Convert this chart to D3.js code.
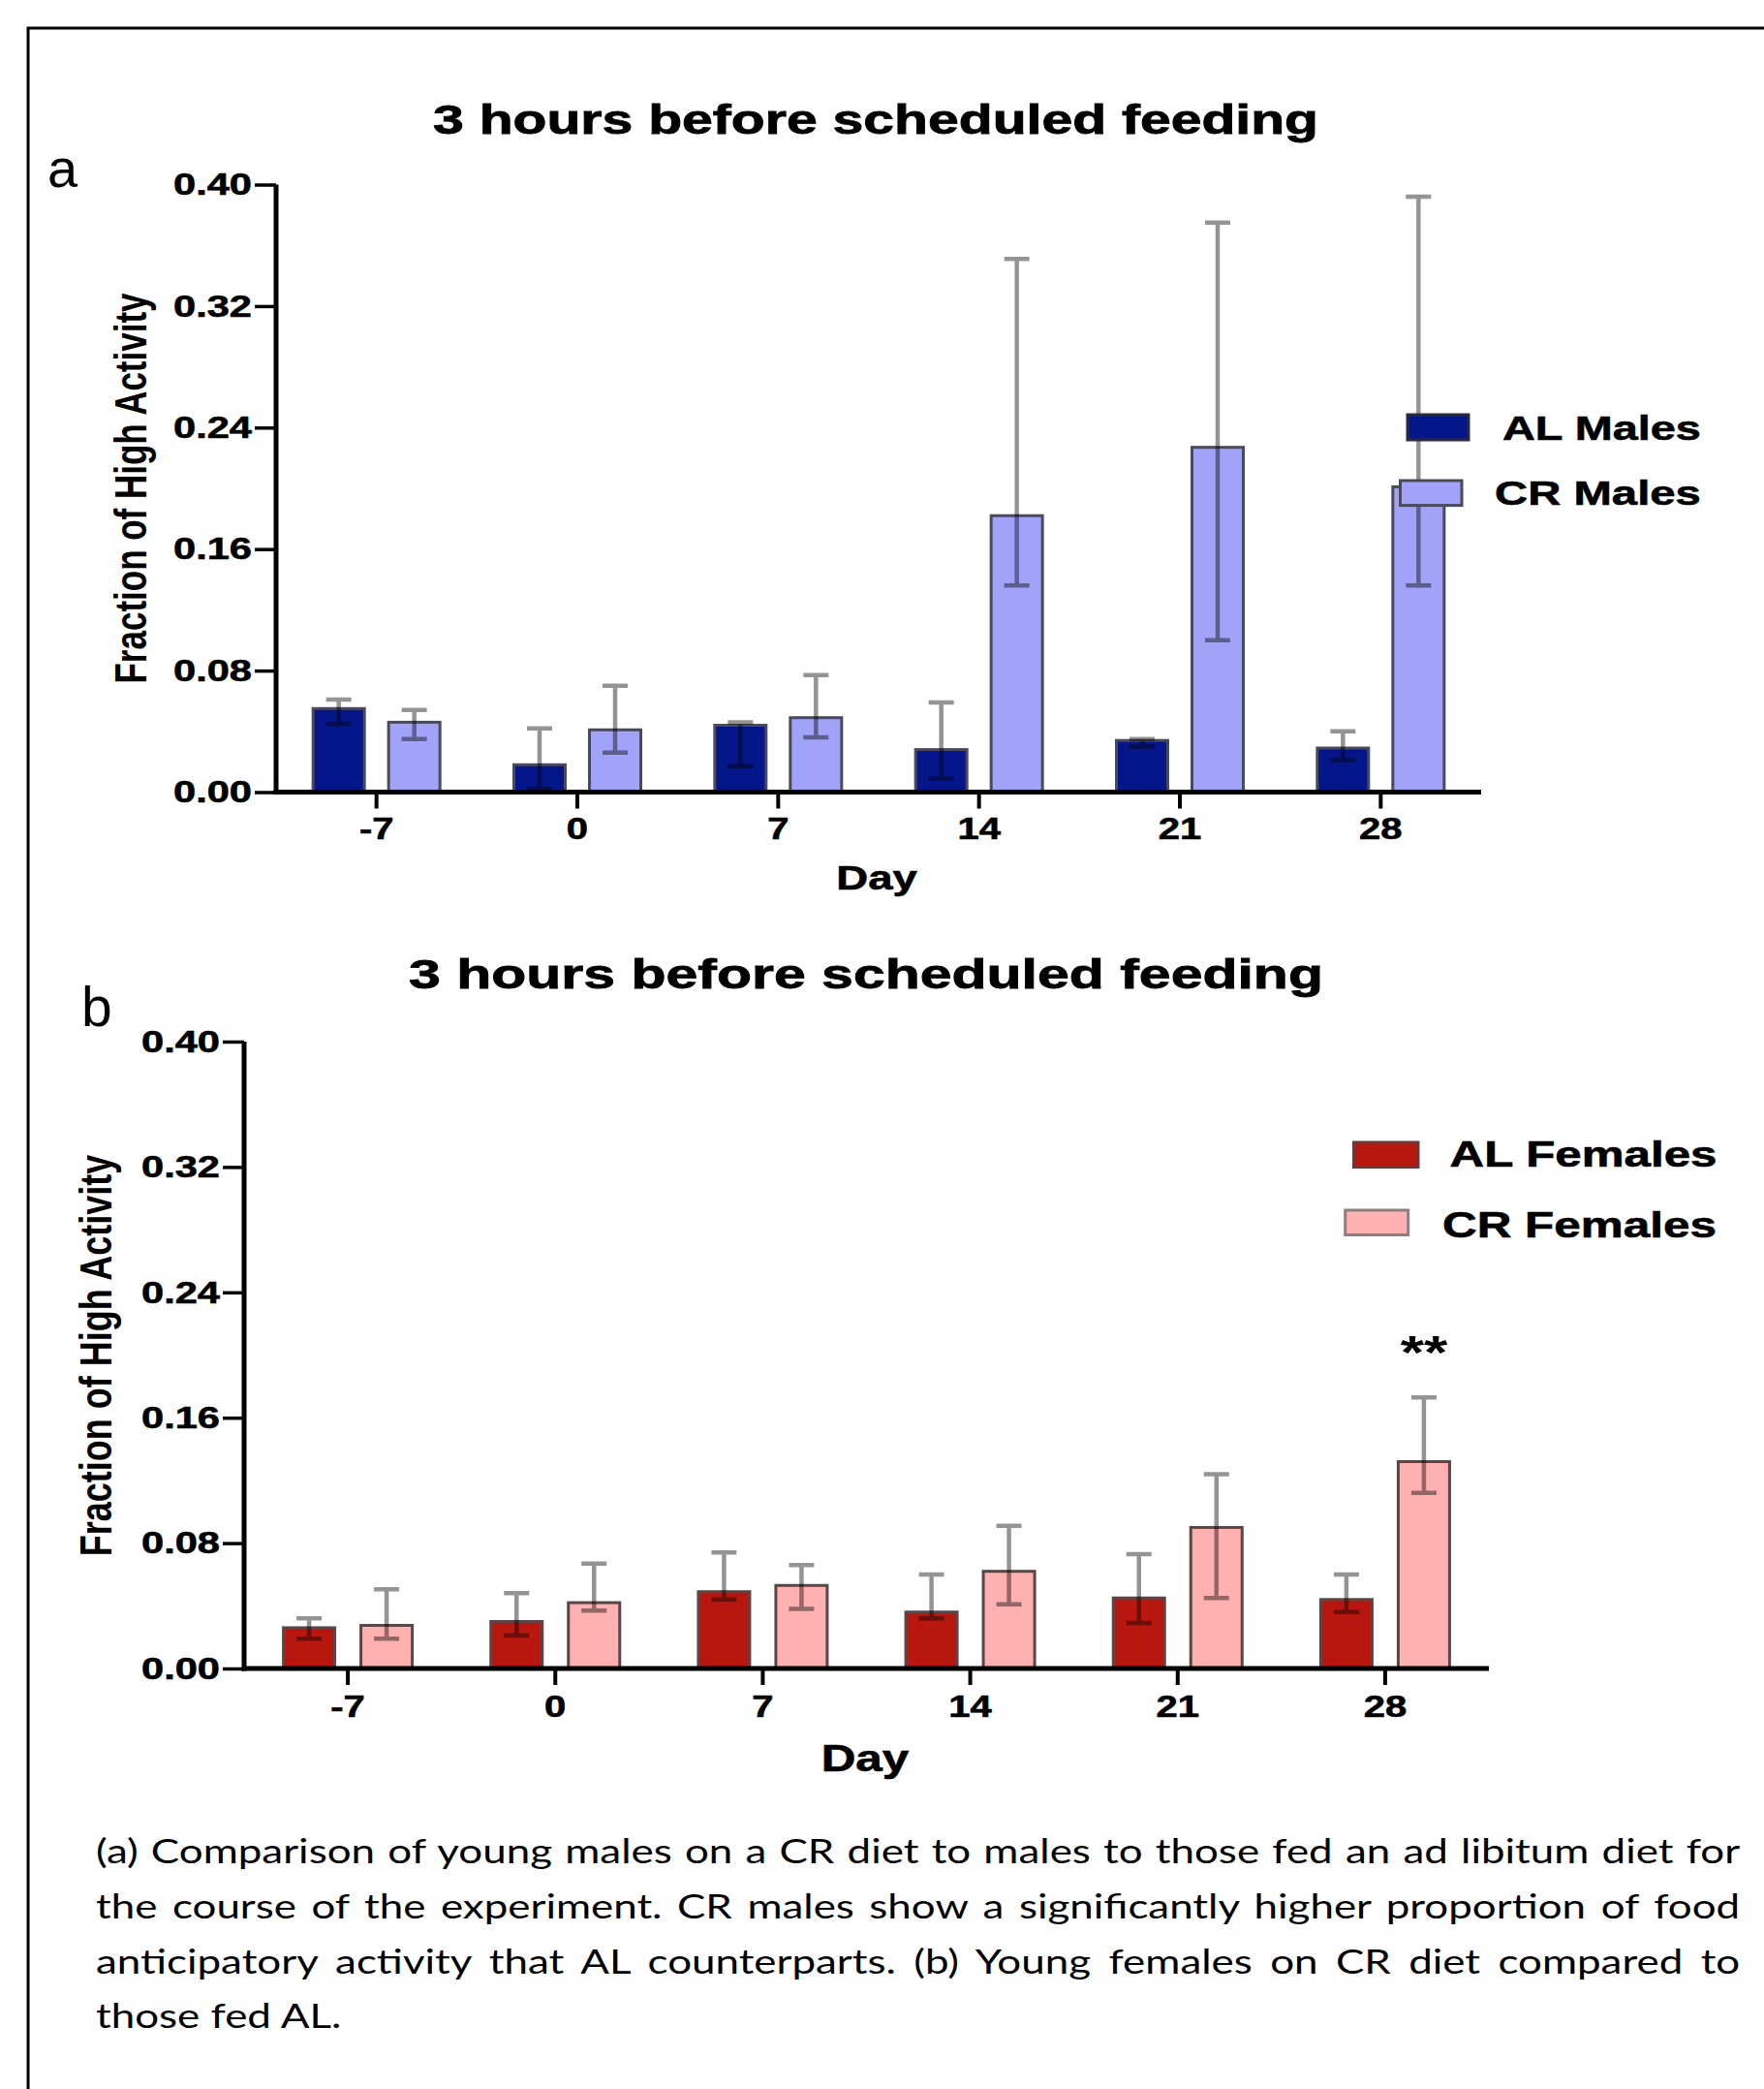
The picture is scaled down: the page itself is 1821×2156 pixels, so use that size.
<!DOCTYPE html>
<html><head><meta charset="utf-8">
<script src="https://cdn.jsdelivr.net/npm/d3@7"></script>
<style>body{margin:0;background:#fff}svg{display:block}</style>
</head><body>
<svg id="fig" width="1821" height="2156"></svg>
<script>
// ---------------- DATA ----------------
const days = ["-7", "0", "7", "14", "21", "28"];
const yTickValues = [0, 0.08, 0.16, 0.24, 0.32, 0.40];
const seriesMales = ["AL Males", "CR Males"];
const seriesFemales = ["AL Females", "CR Females"];

const alMales     = [0.055, 0.018, 0.044, 0.028, 0.034, 0.029];
const alMalesLow  = [0.045, 0.002, 0.017, 0.009, 0.030, 0.021];
const alMalesHigh = [0.061, 0.042, 0.046, 0.059, 0.035, 0.040];
const crMales     = [0.046, 0.041, 0.049, 0.182, 0.227, 0.201];
const crMalesLow  = [0.035, 0.026, 0.036, 0.136, 0.100, 0.136];
const crMalesHigh = [0.054, 0.070, 0.077, 0.351, 0.375, 0.392];

const alFemales     = [0.026, 0.030, 0.049, 0.036, 0.045, 0.044];
const alFemalesLow  = [0.019, 0.021, 0.044, 0.032, 0.029, 0.036];
const alFemalesHigh = [0.032, 0.048, 0.074, 0.060, 0.073, 0.060];
const crFemales     = [0.0275, 0.042, 0.053, 0.062, 0.090, 0.132];
const crFemalesLow  = [0.019, 0.037, 0.038, 0.041, 0.045, 0.112];
const crFemalesHigh = [0.0505, 0.067, 0.066, 0.091, 0.124, 0.173];

const titleText = "3 hours before scheduled feeding";
const yLabelText = "Fraction of High Activity";
const xLabelText = "Day";
const significance = { day: "28", series: 1, label: "**" };
const captionLines = [
  "(a) Comparison of young males on a CR diet to males to those fed an ad libitum diet for",
  "the course of the experiment. CR males show a significantly higher proportion of food",
  "anticipatory activity that AL counterparts. (b) Young females on CR diet compared to",
  "those fed AL."
];

// ---------------- DRAWING ----------------
const svg = d3.select("#fig");
const FONT = "'Liberation Sans', Arial, Helvetica, sans-serif";

function placeText(g, str, x, y, o) {
  const t = g.append("text").text(str)
    .attr("font-family", o.family || FONT)
    .attr("font-size", o.size)
    .attr("font-weight", o.weight || "bold")
    .attr("text-anchor", o.anchor || "start")
    .attr("fill", "#000");
  if (o.heavy) t.attr("stroke", "#000").attr("stroke-width", o.heavy);
  let s = o.sx == null ? 1.3 : o.sx;
  if (o.width) s = o.width / t.node().getComputedTextLength();
  t.attr("transform", `translate(${x},${y}) scale(${s},1)` + (o.rotate ? " rotate(-90)" : ""));
  return t;
}

// frame
svg.append("path").attr("d", "M29,2156V29H1821").attr("fill", "none")
  .attr("stroke", "#000").attr("stroke-width", 3);

const panels = [
  {
    letter: "a", letterPos: [49, 193, 56],
    series: seriesMales,
    values: [alMales, crMales], lows: [alMalesLow, crMalesLow], highs: [alMalesHigh, crMalesHigh],
    fills: ["#04168a", "#a0a3f7"], barStroke: "#4a4a5c", swatchStroke: ["#2a2a3a", "#4a4a5c"],
    xRange: [285, 1529], yRange: [817.5, 190.5], half: 39, barW: 56,
    title: [904, 138, 42, 914],
    yLabel: [151, 504, 35],
    xLabel: [905, 918, 35],
    tickPad: 8.5,
    legend: [
      { sw: [1453, 428, 63, 26], tx: [1551, 454, 36, 205] },
      { sw: [1445.5, 496, 63.5, 25.6], tx: [1543, 521, 36, 213] }
    ],
    showSig: false
  },
  {
    letter: "b", letterPos: [84, 1059, 57],
    series: seriesFemales,
    values: [alFemales, crFemales], lows: [alFemalesLow, crFemalesLow], highs: [alFemalesHigh, crFemalesHigh],
    fills: ["#b8170f", "#ffb0b0"], barStroke: "#5a4646", swatchStroke: ["#6a3a3a", "#8a8080"],
    xRange: [252, 1537], yRange: [1722, 1075], half: 40, barW: 56,
    title: [894, 1020, 43, 944],
    yLabel: [115, 1399, 36],
    xLabel: [893, 1828, 38],
    tickPad: 10,
    legend: [
      { sw: [1397.5, 1179, 66.5, 25.6], tx: [1496.6, 1204, 37, 276] },
      { sw: [1388.7, 1249, 65, 25.5], tx: [1489, 1277, 37, 283] }
    ],
    showSig: true
  }
];

panels.forEach(p => {
  const g = svg.append("g");
  const x = d3.scaleBand().domain(days).range(p.xRange).paddingInner(0).paddingOuter(0);
  const y = d3.scaleLinear().domain([0, 0.40]).range(p.yRange);

  // bars
  p.series.forEach((s, si) => {
    const off = si === 0 ? -p.half : p.half;
    g.append("g").selectAll("rect").data(days).join("rect")
      .attr("x", d => x(d) + x.bandwidth() / 2 + off - p.barW / 2 + 1.5)
      .attr("width", p.barW - 3)
      .attr("y", (d, i) => y(p.values[si][i]))
      .attr("height", (d, i) => y(0) - y(p.values[si][i]))
      .attr("fill", p.fills[si])
      .attr("stroke", p.barStroke).attr("stroke-width", 3);
  });
  // error bars
  p.series.forEach((s, si) => {
    const off = si === 0 ? -p.half : p.half;
    g.append("g").selectAll("path").data(days).join("path")
      .attr("d", (d, i) => {
        const cx = x(d) + x.bandwidth() / 2 + off;
        const yl = y(p.lows[si][i]), yh = y(p.highs[si][i]);
        return `M${cx - 13},${yl}H${cx + 13}M${cx},${yl}V${yh}M${cx - 13},${yh}H${cx + 13}`;
      })
      .attr("fill", "none").attr("stroke", "#000")
      .attr("stroke-opacity", 0.42).attr("stroke-width", 4.5);
  });

  // y axis
  const ya = g.append("g").attr("transform", `translate(${p.xRange[0]},0)`)
    .call(d3.axisLeft(y).tickValues(yTickValues).tickFormat(d3.format(".2f"))
      .tickSize(22).tickSizeOuter(0).tickPadding(3));
  ya.select(".domain").attr("stroke-width", 5).attr("d", `M0,${p.yRange[0] + 2.5}V${p.yRange[1]}`);
  ya.selectAll(".tick line").attr("stroke-width", 3.5);
  ya.selectAll(".tick text").attr("font-family", FONT).attr("font-size", 32).attr("font-weight", "bold")
    .attr("fill", "#000").attr("stroke", "#000").attr("stroke-width", 0.6)
    .each(function () {
      const t = d3.select(this); const xx = +t.attr("x");
      t.attr("x", xx / 1.3).attr("transform", "scale(1.3,1)");
    });

  // x axis
  const xa = g.append("g").attr("transform", `translate(0,${p.yRange[0]})`)
    .call(d3.axisBottom(x).tickSize(17).tickSizeOuter(0).tickPadding(p.tickPad));
  xa.select(".domain").attr("stroke-width", 5).attr("d", `M${p.xRange[0] - 2.5},0H${p.xRange[1]}`);
  xa.selectAll(".tick line").attr("stroke-width", 4);
  xa.selectAll(".tick text").attr("font-family", FONT).attr("font-size", 32).attr("font-weight", "bold")
    .attr("fill", "#000").attr("stroke", "#000").attr("stroke-width", 0.6)
    .attr("transform", "scale(1.25,1)").attr("x", 0);

  // titles and labels
  placeText(g, titleText, p.title[0], p.title[1], { size: p.title[2], anchor: "middle", width: p.title[3], heavy: 0.8 });
  placeText(g, p.letter, p.letterPos[0], p.letterPos[1], { size: p.letterPos[2], weight: "normal", sx: 1 });
  placeText(g, yLabelText, p.yLabel[0], p.yLabel[1], { size: p.yLabel[2], anchor: "middle", rotate: true, sx: 1.3 });
  placeText(g, xLabelText, p.xLabel[0], p.xLabel[1], { size: p.xLabel[2], anchor: "middle", sx: 1.3, heavy: 0.6 });

  // legend
  p.legend.forEach((L, i) => {
    g.append("rect").attr("x", L.sw[0]).attr("y", L.sw[1]).attr("width", L.sw[2]).attr("height", L.sw[3])
      .attr("fill", p.fills[i]).attr("stroke", p.swatchStroke[i]).attr("stroke-width", 3);
    placeText(g, p.series[i], L.tx[0], L.tx[1], { size: L.tx[2], width: L.tx[3], heavy: 0.6 });
  });

  if (p.showSig) {
    const di = days.indexOf(significance.day);
    const cx = x(significance.day) + x.bandwidth() / 2 + p.half;
    placeText(g, significance.label, cx, y(p.highs[significance.series][di]) - 30,
      { size: 48, anchor: "middle", sx: 1.3 });
  }
});

// caption (justified lines, last line left-aligned)
const cap = svg.append("g");
const capBaselines = [1923, 1980, 2037, 2093];
const capX = 99, capWidth = 1698, lastLineWidth = 248;
const capTexts = captionLines.map((line, i) =>
  cap.append("text").text(line).attr("font-family", "Lato, 'Open Sans', sans-serif")
    .attr("font-size", 34).attr("fill", "#000"));
const sxLast = lastLineWidth / capTexts[capTexts.length - 1].node().getComputedTextLength();
const sxFirst = capWidth / capTexts[0].node().getComputedTextLength();
const sxCap = Math.min(sxFirst * 0.995, (sxLast + sxFirst) / 2);
capTexts.forEach((t, i) => {
  const n = t.node().getComputedTextLength();
  if (i < capTexts.length - 1) {
    const spaces = (captionLines[i].match(/ /g) || []).length;
    t.attr("word-spacing", (capWidth / sxCap - n) / spaces);
  }
  t.attr("transform", `translate(${capX},${capBaselines[i]}) scale(${sxCap},1)`);
});
</script>
</body></html>
